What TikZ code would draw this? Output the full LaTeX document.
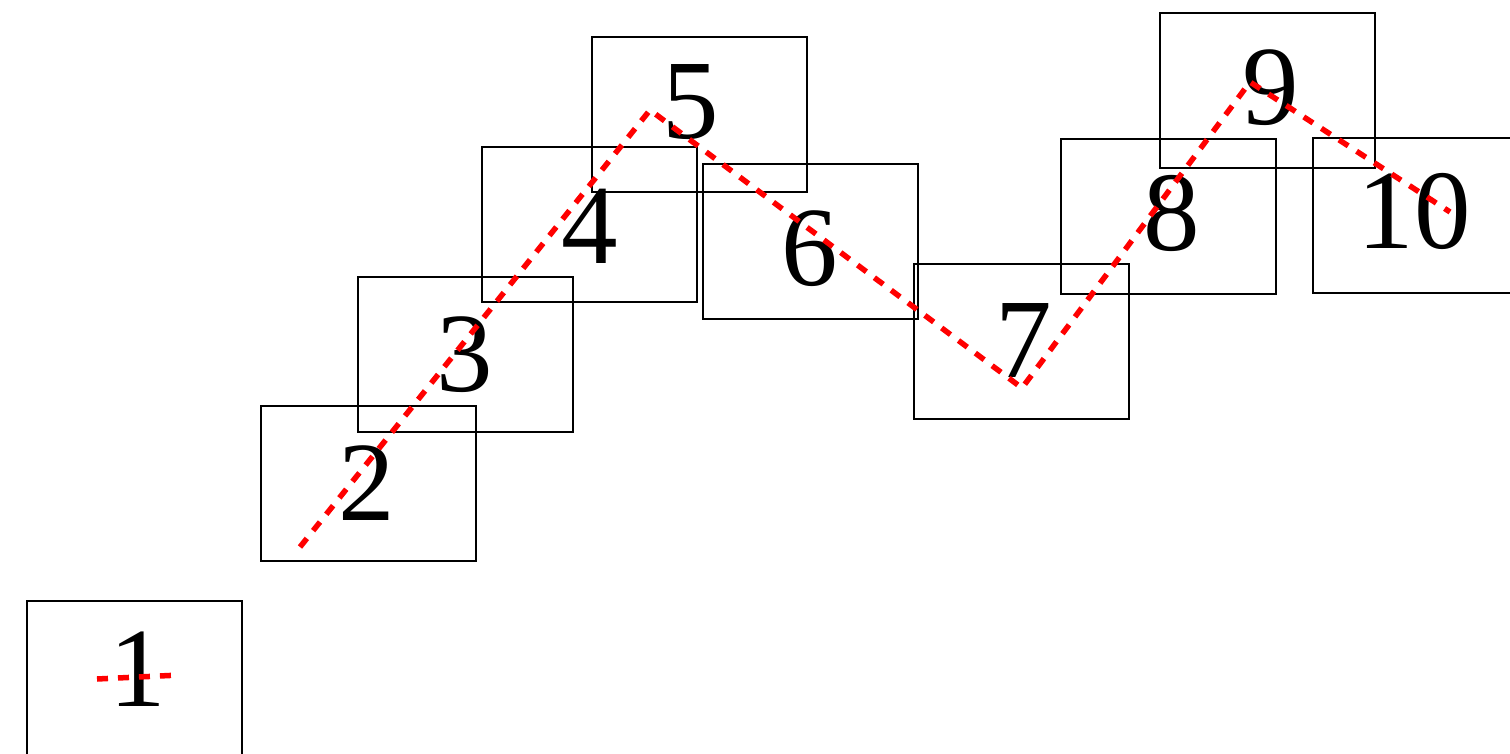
\documentclass[tikz,border=0pt]{standalone}
\usepackage{fontspec}
\setmainfont{Liberation Serif}
\begin{document}
\begin{tikzpicture}[x=1pt,y=-1pt,
  box/.style={draw=black,line width=2pt,minimum width=215pt,minimum height=155pt,inner sep=0pt,anchor=north west},
  num/.style={font=\fontsize{113}{113}\selectfont,inner sep=0pt,anchor=base},
  redline/.style={draw=red,line width=5.5pt,dash pattern=on 11pt off 10pt}]
\useasboundingbox (0,0) rectangle (1510,754);
\node[box] (b1) at (26,600) {};
\node[box] (b2) at (260,405) {};
\node[box] (b3) at (357,276) {};
\node[box] (b4) at (481,146) {};
\node[box] (b5) at (591,36) {};
\node[box] (b6) at (702,163) {};
\node[box] (b7) at (913,263) {};
\node[box] (b8) at (1060,138) {};
\node[box] (b9) at (1159,12) {};
\node[box] (b10) at (1312,137) {};
\node[num] (n1) at (138,706) {1};
\node[num] (n2) at (367,520) {2};
\node[num] (n3) at (465,391) {3};
\node[num] (n4) at (590,263) {4};
\node[num] (n5) at (691,139) {5};
\node[num] (n6) at (810,285) {6};
\node[num] (n7) at (1024,377) {7};
\node[num] (n8) at (1172,251) {8};
\node[num] (n9) at (1271,125) {9};
\node[num] (n10) at (1414,248) {10};
\coordinate (p0) at (97,679);
\coordinate (p1) at (180,675);
\coordinate (q0) at (300,547);
\coordinate (q1) at (650,110);
\coordinate (q2) at (1022,388);
\coordinate (q3) at (1250,82);
\coordinate (q4) at (1450,212);
\draw[redline] (p0) -- (p1);
\draw[redline] (q0) -- (q1) -- (q2) -- (q3) -- (q4);
\end{tikzpicture}
\end{document}
